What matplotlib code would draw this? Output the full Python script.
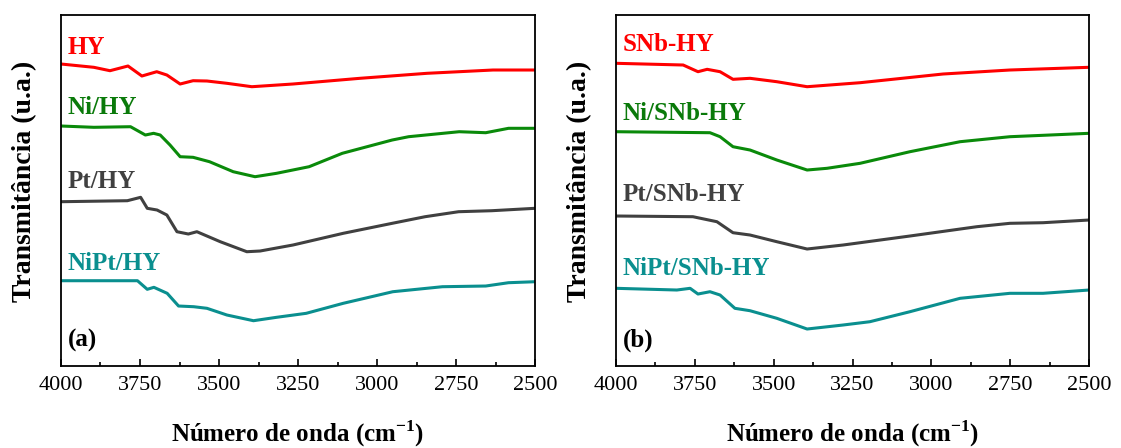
import numpy as np
import matplotlib
matplotlib.use("Agg")
import matplotlib.pyplot as plt
from matplotlib.ticker import MultipleLocator

plt.rcParams['font.family'] = ['Liberation Serif', 'DejaVu Serif']
plt.rcParams['mathtext.fontset'] = 'custom'
plt.rcParams['mathtext.rm'] = 'Liberation Serif'
plt.rcParams['mathtext.bf'] = 'Liberation Serif:bold'

# ------------ panel (a) ------------
w_hy = [4000, 3896, 3845, 3788, 3744, 3697, 3665, 3623, 3582, 3538, 3475, 3396, 3266, 3054, 2842, 2633, 2500]
t_hy = [3.02, 2.987, 2.953, 3.00, 2.90, 2.943, 2.91, 2.82, 2.853, 2.85, 2.827, 2.793, 2.82, 2.877, 2.927, 2.96, 2.96]

w_ni_hy = [4000, 3896, 3780, 3733, 3707, 3686, 3655, 3623, 3582, 3530, 3455, 3386, 3318, 3215, 3110, 2952, 2900, 2740, 2656, 2584, 2500]
t_ni_hy = [2.40, 2.387, 2.393, 2.31, 2.327, 2.31, 2.21, 2.093, 2.087, 2.043, 1.943, 1.893, 1.927, 1.993, 2.127, 2.26, 2.293, 2.343, 2.333, 2.377, 2.377]

w_pt_hy = [4000, 3790, 3748, 3727, 3696, 3665, 3633, 3597, 3570, 3496, 3412, 3370, 3266, 3107, 2952, 2848, 2742, 2637, 2500]
t_pt_hy = [1.643, 1.653, 1.687, 1.577, 1.56, 1.51, 1.343, 1.32, 1.343, 1.243, 1.143, 1.15, 1.21, 1.327, 1.427, 1.493, 1.543, 1.553, 1.577]

w_nipt_hy = [4000, 3758, 3727, 3706, 3664, 3628, 3580, 3538, 3475, 3391, 3318, 3224, 3107, 2950, 2793, 2656, 2584, 2500]
t_nipt_hy = [0.853, 0.853, 0.767, 0.787, 0.727, 0.60, 0.593, 0.577, 0.51, 0.453, 0.487, 0.527, 0.627, 0.743, 0.793, 0.80, 0.833, 0.843]

# ------------ panel (b) ------------
w_snb = [4000, 3787, 3740, 3711, 3670, 3629, 3575, 3490, 3394, 3226, 2963, 2751, 2500]
t_snb = [3.027, 3.01, 2.943, 2.967, 2.943, 2.867, 2.877, 2.843, 2.793, 2.833, 2.92, 2.96, 2.987]

w_ni_snb = [4000, 3702, 3670, 3629, 3575, 3490, 3394, 3331, 3226, 3068, 2909, 2751, 2646, 2500]
t_ni_snb = [2.343, 2.333, 2.293, 2.193, 2.16, 2.06, 1.96, 1.977, 2.027, 2.143, 2.243, 2.293, 2.307, 2.327]

w_pt_snb = [4000, 3756, 3680, 3629, 3575, 3490, 3394, 3280, 3068, 2856, 2751, 2646, 2500]
t_pt_snb = [1.50, 1.493, 1.443, 1.333, 1.31, 1.243, 1.17, 1.21, 1.30, 1.393, 1.427, 1.433, 1.46]

w_nipt_snb = [4000, 3807, 3765, 3740, 3702, 3670, 3623, 3575, 3490, 3394, 3280, 3195, 3068, 2909, 2751, 2646, 2500]
t_nipt_snb = [0.777, 0.76, 0.777, 0.72, 0.743, 0.71, 0.577, 0.553, 0.477, 0.37, 0.41, 0.443, 0.543, 0.677, 0.727, 0.727, 0.76]

names_a = ["HY", "Ni/HY", "Pt/HY", "NiPt/HY"]
names_b = ["SNb-HY", "Ni/SNb-HY", "Pt/SNb-HY", "NiPt/SNb-HY"]
label_y_a = [3.19, 2.59, 1.85, 1.03]
label_y_b = [3.22, 2.53, 1.72, 0.98]

line_colors = ["#ff0000", "#0a8a0a", "#404040", "#0a8f8f"]
text_colors = ["#ff0000", "#0a7a0a", "#404040", "#0a8f8f"]

fig = plt.figure(figsize=(11.21, 4.48), dpi=100)
ax1 = fig.add_axes([0.0544, 0.183, 0.4229, 0.7835])
ax2 = fig.add_axes([0.5495, 0.183, 0.4220, 0.7835])

panels = [
    (ax1, [(w_hy, t_hy), (w_ni_hy, t_ni_hy), (w_pt_hy, t_pt_hy), (w_nipt_hy, t_nipt_hy)], names_a, label_y_a, "(a)"),
    (ax2, [(w_snb, t_snb), (w_ni_snb, t_ni_snb), (w_pt_snb, t_pt_snb), (w_nipt_snb, t_nipt_snb)], names_b, label_y_b, "(b)"),
]

for ax, series, names, ly, tag in panels:
    for (w, t), c in zip(series, line_colors):
        ax.plot(w, t, color=c, lw=2.2, solid_joinstyle='round')
    for name, y, c in zip(names, ly, text_colors):
        ax.text(3978, y, name, color=c, fontsize=18, fontweight='bold', va='center', ha='left')
    ax.text(3978, 0.26, tag, color='black', fontsize=18, fontweight='bold', va='center', ha='left')
    ax.set_xlim(4000, 2500)
    ax.set_ylim(0, 3.51)
    ax.xaxis.set_major_locator(MultipleLocator(250))
    ax.xaxis.set_minor_locator(MultipleLocator(125))
    ax.tick_params(axis='x', which='major', direction='in', length=5, width=1.2, labelsize=16, pad=7)
    ax.tick_params(axis='x', which='minor', direction='in', length=3, width=1.2)
    ax.set_yticks([])
    for s in ax.spines.values():
        s.set_linewidth(1.3)
    ax.set_xlabel("Número de onda (cm$^{\\mathbf{-1}}$)", fontsize=18, fontweight='bold', labelpad=17)
    ax.set_ylabel("Transmitância (u.a.)", fontsize=20, fontweight='bold')
    ax.yaxis.set_label_coords(-0.05, 0.525)

fig.savefig("out.png", dpi=100)
